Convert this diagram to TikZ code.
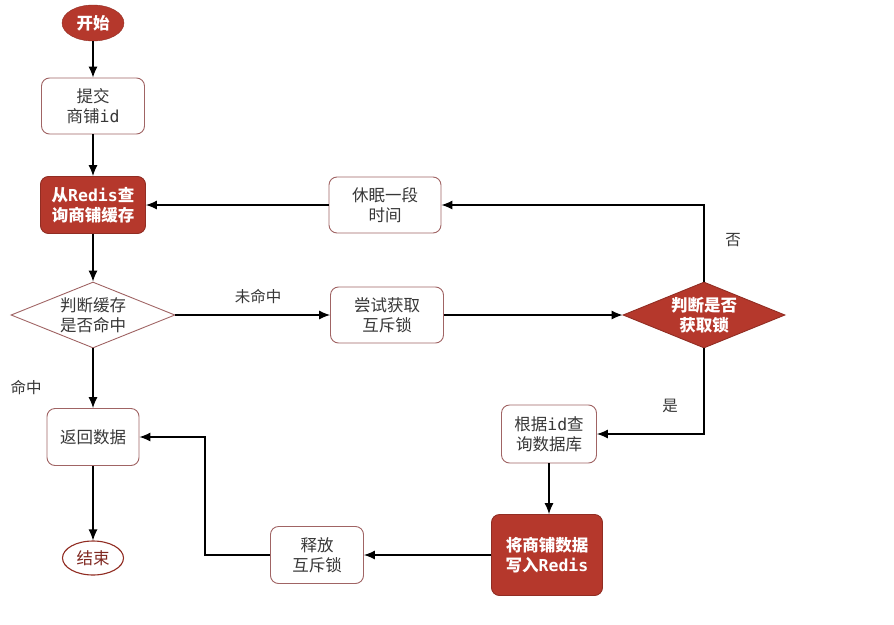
\documentclass[tikz,border=0pt]{standalone}
\usepackage{fontspec}
\setmainfont{Noto Sans CJK SC}
\newfontfamily\lat{DejaVu Sans Mono}
\usetikzlibrary{arrows.meta,shapes.geometric}
\definecolor{rd}{RGB}{181,56,44}
\definecolor{bd}{RGB}{160,100,100}
\definecolor{tx}{RGB}{55,55,55}
\begin{document}
\begin{tikzpicture}[x=1pt,y=-1pt,
  every node/.style={font=\fontsize{16.5}{20}\selectfont, align=center, text=tx},
  wbox/.style={draw=bd, line width=0.9pt, fill=white, rounded corners=8pt, inner sep=0pt},
  rbox/.style={draw=rd!80!black, line width=0.9pt, fill=rd, rounded corners=8pt, inner sep=0pt, text=white, font=\fontsize{16.5}{20}\selectfont\bfseries},
  wdia/.style={diamond, draw=bd, line width=0.9pt, fill=white, inner sep=0pt, shape aspect=2.5},
  rdia/.style={diamond, draw=rd!80!black, line width=0.9pt, fill=rd, inner sep=0pt, shape aspect=2.5, text=white, font=\fontsize{16.5}{20}\selectfont\bfseries},
  lbl/.style={font=\fontsize{15.5}{18}\selectfont, text=tx},
  arr/.style={draw=black, line width=1.1pt, -{Latex[length=11pt,width=9pt]}},
  ln/.style={draw=black, line width=1.1pt}
]
\useasboundingbox (0,0) rectangle (894,624);
\node[ellipse, draw=rd!80!black, fill=rd, text=white, minimum width=62pt, minimum height=36pt, inner sep=0pt, font=\fontsize{16.5}{20}\selectfont\bfseries] (start) at (93,23) {开始};
\node[wbox, minimum width=103pt, minimum height=56pt] (submit) at (93,106) {提交\\商铺{\lat id}};
\node[rbox, minimum width=105pt, minimum height=57pt] (query) at (93,205) {从{\lat Redis}查\\询商铺缓存};
\node[wdia, minimum width=164pt, minimum height=66pt] (j1) at (93,315) {判断缓存\\是否命中};
\node[wbox, minimum width=113pt, minimum height=56pt] (try) at (387,315) {尝试获取\\互斥锁};
\node[rdia, minimum width=162pt, minimum height=66pt] (j2) at (704,315) {判断是否\\获取锁};
\node[wbox, minimum width=112pt, minimum height=56pt] (sleep) at (385,205) {休眠一段\\时间};
\node[wbox, minimum width=95pt, minimum height=58pt] (db) at (549,434) {根据{\lat id}查\\询数据库};
\node[rbox, minimum width=111pt, minimum height=81pt] (write) at (547,555) {将商铺数据\\写入{\lat Redis}};
\node[wbox, minimum width=93pt, minimum height=57pt] (rel) at (317,555) {释放\\互斥锁};
\node[wbox, minimum width=92pt, minimum height=57pt] (ret) at (93,437) {返回数据};
\node[ellipse, draw=rd!80!black, line width=1.1pt, fill=white, text=rd!70!black, minimum width=61pt, minimum height=34pt, inner sep=0pt] (end) at (93,558) {结束};
\node[lbl] (l1) at (258,297) {未命中};
\node[lbl] (l2) at (733,240) {否};
\node[lbl] (l3) at (670,406) {是};
\node[lbl] (l4) at (26,388) {命中};
\coordinate (bend) at (205,555);
\draw[arr] (start) -- (submit);
\draw[arr] (submit) -- (query);
\draw[arr] (query) -- (j1);
\draw[arr] (j1.east) -- (try.west);
\draw[arr] (try.east) -- (j2.west);
\draw[arr] (j2.north) |- (sleep.east);
\draw[arr] (sleep.west) -- (query.east);
\draw[arr] (j2.south) |- (db.east);
\draw[arr] (db.south) -- (db.south |- write.north);
\draw[arr] (write.west) -- (rel.east);
\draw[arr] (rel.west) -- (bend) |- (ret.east);
\draw[arr] (j1.south) -- (ret.north);
\draw[arr] (ret.south) -- (end.north);
\end{tikzpicture}
\end{document}
